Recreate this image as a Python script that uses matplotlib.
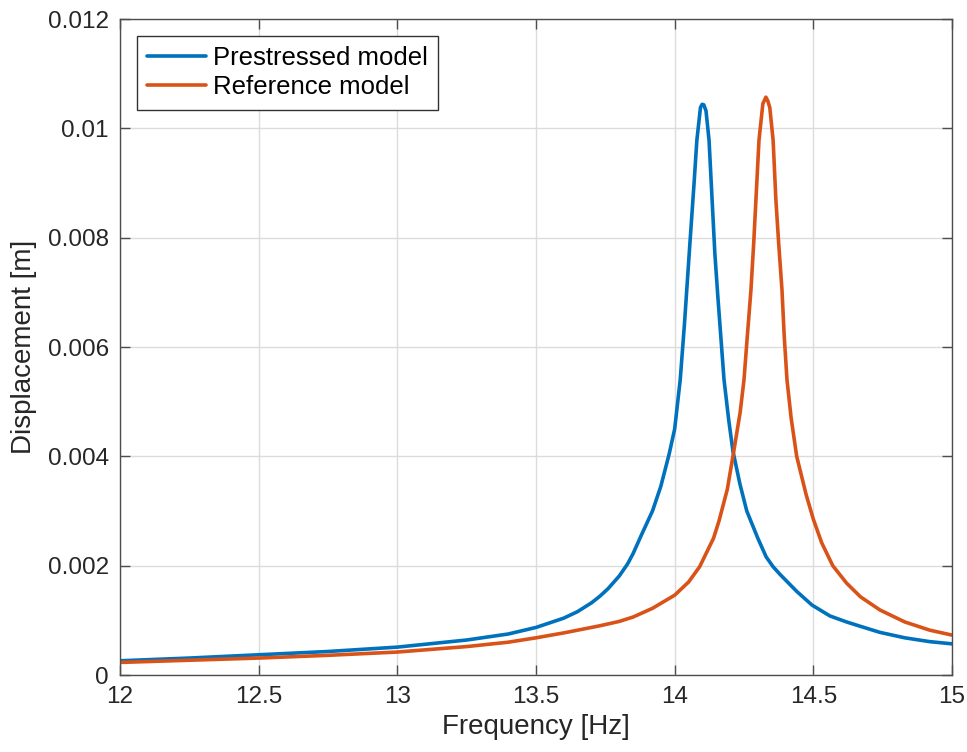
import matplotlib
matplotlib.use("Agg")
import matplotlib.pyplot as plt

plt.rcParams['font.family'] = ['Liberation Sans', 'DejaVu Sans']

# Prestressed model
freq_pre = [12.0, 12.25, 12.5, 12.75, 13.0, 13.25, 13.4, 13.5, 13.6, 13.65, 13.7,
            13.73, 13.76, 13.8, 13.83, 13.85, 13.88, 13.92, 13.95, 13.98, 14.0,
            14.02, 14.035, 14.055, 14.07, 14.08, 14.093, 14.099, 14.105, 14.113,
            14.124, 14.135, 14.145, 14.156, 14.178, 14.195, 14.21, 14.235, 14.26,
            14.30, 14.33, 14.355, 14.38, 14.44, 14.495, 14.56, 14.62, 14.67, 14.74,
            14.83, 14.92, 15.0]
disp_pre = [0.00026, 0.00031, 0.00037, 0.00043, 0.00051, 0.00064, 0.00075, 0.00087,
            0.00104, 0.00116, 0.00132, 0.00144, 0.00158, 0.00181, 0.00203, 0.00222,
            0.00256, 0.00300, 0.00345, 0.00404, 0.00450, 0.0054, 0.0064, 0.0079,
            0.0090, 0.00978, 0.01038, 0.01044, 0.01043, 0.01032, 0.00978, 0.00869,
            0.0077, 0.00690, 0.0054, 0.00466, 0.0041, 0.00350, 0.00300, 0.00250,
            0.00216, 0.00198, 0.00184, 0.00153, 0.00128, 0.00108, 0.00097, 0.00089,
            0.00078, 0.00068, 0.00061, 0.00057]

# Reference model
freq_ref = [12.0, 12.25, 12.5, 12.75, 13.0, 13.25, 13.4, 13.5, 13.6, 13.73, 13.8,
            13.85, 13.92, 14.0, 14.05, 14.09, 14.14, 14.16, 14.19, 14.214, 14.236,
            14.25, 14.262, 14.275, 14.285, 14.293, 14.304, 14.318, 14.329, 14.336,
            14.343, 14.355, 14.365, 14.375, 14.387, 14.395, 14.405, 14.42, 14.44,
            14.474, 14.5, 14.53, 14.57, 14.62, 14.67, 14.74, 14.83, 14.92, 15.0]
disp_ref = [0.00023, 0.00027, 0.00031, 0.00036, 0.00042, 0.00052, 0.00060, 0.00068,
            0.00077, 0.00090, 0.00098, 0.00106, 0.00122, 0.00146, 0.00170, 0.00198,
            0.00250, 0.00282, 0.00340, 0.00412, 0.0048, 0.0054, 0.0062, 0.00704,
            0.0079, 0.00869, 0.00978, 0.01045, 0.01057, 0.01050, 0.01038, 0.00978,
            0.00869, 0.0079, 0.00704, 0.0062, 0.0054, 0.0047, 0.0040, 0.0033,
            0.00285, 0.00242, 0.0020, 0.00168, 0.00143, 0.00119, 0.00097, 0.00082,
            0.00073]

xticks = [12, 12.5, 13, 13.5, 14, 14.5, 15]
xtick_labels = ['12', '12.5', '13', '13.5', '14', '14.5', '15']
yticks = [0, 0.002, 0.004, 0.006, 0.008, 0.01, 0.012]
ytick_labels = ['0', '0.002', '0.004', '0.006', '0.008', '0.01', '0.012']

fig = plt.figure(figsize=(9.67, 7.52), dpi=100)
ax = fig.add_axes([120/967, 1-675/752, 832/967, 656/752])

ax.plot(freq_pre, disp_pre, color='#0072BD', lw=2.6, label='Prestressed model',
        solid_joinstyle='round', solid_capstyle='round')
ax.plot(freq_ref, disp_ref, color='#D95319', lw=2.6, label='Reference model',
        solid_joinstyle='round', solid_capstyle='round')

ax.set_xlim(12, 15)
ax.set_ylim(0, 0.012)
ax.set_xticks(xticks)
ax.set_xticklabels(xtick_labels)
ax.set_yticks(yticks)
ax.set_yticklabels(ytick_labels)

ax.grid(True, color='#dcdcdc', lw=1.0)
ax.set_axisbelow(True)
for s in ax.spines.values():
    s.set_color('#4d4d4d')
    s.set_linewidth(1.0)
ax.tick_params(direction='in', length=7, width=1.0, colors='#4d4d4d',
               labelcolor='#262626', labelsize=17.5, top=True, right=True, pad=8)

ax.set_xlabel('Frequency [Hz]', fontsize=20, color='#262626', labelpad=4)
ax.set_ylabel('Displacement [m]', fontsize=20, color='#262626', labelpad=8)

leg = ax.legend(loc='upper left', bbox_to_anchor=(0.0204, 0.974), borderaxespad=0,
                fontsize=18.5, handlelength=2.3, handletextpad=0.25,
                labelspacing=0.2, borderpad=0.4, fancybox=False, framealpha=1,
                edgecolor='#333333')
leg.get_frame().set_linewidth(1.0)

fig.savefig('out.png', dpi=100)
